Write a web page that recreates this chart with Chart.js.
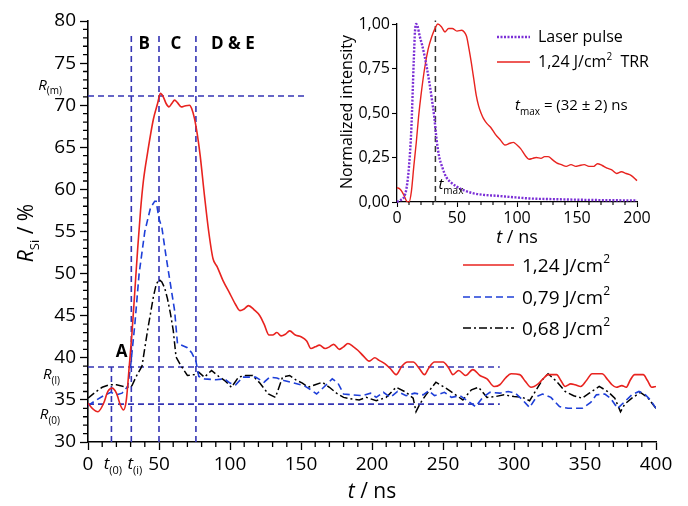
<!DOCTYPE html>
<html>
<head>
<meta charset="utf-8">
<script src="https://cdn.jsdelivr.net/npm/chart.js@4.4.1/dist/chart.umd.min.js"></script>
<style>
  body { margin: 0; background: #fff; }
  #wrap { position: relative; width: 688px; height: 506px; }
  #main { position: absolute; left: 0; top: 0; }
  #inset { position: absolute; left: 330px; top: 0; }
</style>
</head>
<body>
<div id="wrap">
  <canvas id="main" width="688" height="506"></canvas>
  <canvas id="inset" width="330" height="250"></canvas>
</div>
<script>
// reflectivity traces, t in ns, R in %
const tRed = [0,3,7,11,14,17,20,23,25,27,29,31,33,35,37,39,42,46,49,51,53,55,57,59,61,63,65.7,68,71.5,73,75,77,79,82,85,88,91,95,100,104,107,110,113,117,121,124,127.5,130,133,136,139,142,146,150,154,157,160,163,167,170,173,177,180,183,187,190,194,198,202,205,209,213,217,221,225,229,233,237,240,244,250,254,257,261,266,271,276,281,286,290,294,298,304,308,312,317,321,324,330,333,336,340,343,347,351,355,362,366,369,372,376,379,382,385,391,394,397,400];
const rRed = [34.6,34.0,33.6,34.6,36.0,36.4,35.8,34.3,33.8,35.0,38.9,43.0,48.0,53.0,57.5,61.0,64.4,68.3,70.2,71.4,71.0,70.2,69.8,70.2,70.6,70.3,69.8,69.9,70.0,69.6,68.4,66.5,64.0,59.3,55.0,51.8,50.8,49.2,47.6,46.3,45.6,45.8,46.2,45.7,45.0,44.0,42.7,42.7,43.0,42.6,42.8,43.2,42.7,42.5,42.0,41.1,41.3,41.5,41.1,41.3,41.6,41.0,41.3,41.7,41.3,40.9,40.2,39.6,40.0,39.7,39.3,38.7,38.0,39.0,39.5,39.5,38.8,38.0,38.8,39.5,39.5,38.8,38.0,38.5,37.9,38.6,37.9,37.5,36.6,36.8,37.6,38.1,38.0,37.2,36.5,36.9,37.6,38.0,38.0,37.3,36.6,36.9,36.8,36.6,37.3,38.1,38.1,37.4,36.8,36.5,36.7,36.5,37.4,38.0,38.0,37.3,36.5,36.6];

const tBlue = [0,5,10,16,20,24,28,30,33,36,40,44,47,48,50,52,55,58,61,63,66,70,73,76,78,82,90,96,100,104,109,118,124,128,133,138,145,152,157,161,166,172,176,180,186,193,199,203,208,213,218,224,230,236,240,244,251,256,262,268,273,278,283,290,296,301,306,311,316,320,326,332,338,348,354,358,364,368,373,378,383,388,392,396,400];
const rBlue = [34.3,34.9,35.4,35.9,35.6,35.8,36.6,39.0,44.0,50.0,55.0,57.8,58.6,58.6,56.5,55.5,52.0,48.8,45.6,41.7,41.5,41.2,40.6,39.6,37.8,37.5,37.4,37.5,37.0,36.8,37.7,37.7,37.1,37.7,37.6,37.3,37.0,36.7,36.2,35.7,36.5,37.5,37.0,35.7,35.6,35.5,35.8,35.3,35.9,35.3,36.0,35.5,35.8,35.6,36.1,35.5,35.9,35.3,35.5,34.8,34.2,35.3,35.9,35.8,36.0,35.8,35.0,34.1,35.4,35.7,35.3,34.2,34.0,34.0,34.7,35.6,35.7,35.2,34.0,34.8,35.6,36.0,35.7,35.0,34.0];

const tBlack = [0,5,10,15,20,25,29,31,34,38,42,46,48,50,52,54,56,58,60,62,65,70,75,78,82,87,92,97,101,106,111,116,121,127,132,137,142,147,151,155,160,165,170,175,180,186,191,196,203,210,217,224,229,231,234,238,245,252,258,264,270,275,281,287,293,300,306,311,315,320,324,330,336,342,348,353,360,366,371,375,378,383,389,394,400];
const rBlack = [35.2,35.9,36.5,36.8,36.8,36.6,36.5,36.7,37.8,39.0,43.3,47.2,48.7,49.3,49.0,48.3,47.0,45.3,43.3,40.1,39.2,37.9,38.0,38.3,37.7,38.5,37.8,37.2,36.5,37.7,37.9,37.9,37.0,35.7,35.3,37.7,37.9,37.3,37.0,36.5,36.8,37.1,36.5,35.8,35.3,35.1,35.0,35.3,34.9,35.3,36.5,35.9,35.2,33.6,34.6,35.6,37.1,36.4,35.7,35.0,36.2,36.5,35.3,35.4,35.6,35.4,35.3,34.9,36.0,37.4,38.1,37.2,36.0,35.5,35.2,35.8,36.6,36.0,35.2,33.6,34.5,35.2,35.9,35.3,34.0];

const fluences = ['1,24', '0,79', '0,68'];

// phase markers
const phaseTimes = [30.5, 50, 76];
const phaseTop = 78.5;
const tZero = 16.5;
const levels = [71.1, 38.9, 34.5];   // R(m), R(l), R(0)
const levelEnds = [153, 290, 290];

// inset: normalised laser pulse and TRR signal
const tLaser = [0,3,6,8,10,12,14,15,16,17,19,21,23,25,27,29,31,33,35,38,41,45,50,56,63,72,83,95,110,130,150,175,200];
const vLaser = [0,0.01,0.03,0.08,0.2,0.42,0.8,0.96,1.0,0.99,0.93,0.88,0.82,0.75,0.67,0.58,0.48,0.35,0.26,0.19,0.14,0.11,0.085,0.065,0.05,0.04,0.035,0.028,0.02,0.016,0.013,0.01,0.009];
const tTrr = [0,2,4,6,8,10,12,14,16,18,20,23,26,29,32,34,37,40,43,46,50,54,56,58,60,62,64,66,68,70,72,75,78,82,86,90,94,97,100,103,107,110,113,116,120,123,126,130,133,137,141,145,149,152,156,160,164,167,171,175,179,183,187,191,195,200];
const vTrr = [0.08,0.075,0.06,0.035,0.005,0.0,0.06,0.2,0.33,0.48,0.6,0.75,0.86,0.93,0.98,1.0,0.985,0.955,0.975,0.975,0.96,0.965,0.955,0.93,0.86,0.78,0.69,0.6,0.54,0.5,0.47,0.44,0.42,0.38,0.35,0.32,0.33,0.335,0.32,0.3,0.26,0.24,0.245,0.25,0.245,0.255,0.255,0.235,0.22,0.21,0.2,0.21,0.2,0.205,0.21,0.2,0.2,0.215,0.205,0.19,0.18,0.16,0.17,0.16,0.15,0.12];
const tMax = 32;

const FAM = "'Open Sans', sans-serif";
const RED = '#e8231f', BLUE = '#1e3fd8', GUIDE = '#3434b4', PURPLE = '#7b2fd6';

const pts = (xs, ys) => xs.map((v, i) => ({ x: v, y: ys[i] }));

// text with italic / bold / sub / sup pieces, y is the baseline
function rich(ctx, x, y, parts, size, align) {
  const font = st => {
    if (st === 'i') return `italic ${size}px ${FAM}`;
    if (st === 'b') return `bold ${size}px ${FAM}`;
    if (st === 'sub' || st === 'sup') return `${Math.round(size * 0.64)}px ${FAM}`;
    return `${size}px ${FAM}`;
  };
  let w = 0;
  parts.forEach(p => { ctx.font = font(p[1]); w += ctx.measureText(p[0]).width; });
  let cx = align === 'center' ? x - w / 2 : align === 'right' ? x - w : x;
  ctx.textAlign = 'left';
  ctx.textBaseline = 'alphabetic';
  parts.forEach(p => {
    ctx.font = font(p[1]);
    const dy = p[1] === 'sub' ? size * 0.3 : p[1] === 'sup' ? -size * 0.45 : 0;
    ctx.fillText(p[0], cx, y + dy);
    cx += ctx.measureText(p[0]).width;
  });
}

function minorTicks(ctx, x, y, xs, ys, len) {
  ctx.beginPath();
  xs.forEach(t => { const px = x.getPixelForValue(t); ctx.moveTo(px, y.bottom); ctx.lineTo(px, y.bottom + len); });
  ys.forEach(v => { const py = y.getPixelForValue(v); ctx.moveTo(x.left - len, py); ctx.lineTo(x.left, py); });
  ctx.stroke();
}

const guideSets = [];
phaseTimes.forEach(t => guideSets.push(pts([t, t], [30, phaseTop])));
guideSets.push(pts([tZero, tZero], [30, levels[1]]));
levels.forEach((v, i) => guideSets.push(pts([0, levelEnds[i]], [v, v])));

const mainDecor = {
  id: 'mainDecor',
  afterDraw(chart) {
    const { ctx, scales: { x, y } } = chart;
    ctx.save();
    ctx.strokeStyle = '#000';
    ctx.lineWidth = 1.3;
    const mx = [], my = [];
    for (let t = 10; t < 400; t += 10) if (t % 50) mx.push(t);
    for (let v = 31; v < 80; v++) if (v % 5) my.push(v);
    minorTicks(ctx, x, y, mx, my, 5);

    ctx.fillStyle = '#000';
    rich(ctx, x.left - 26, y.getPixelForValue(levels[0]) - 6, [['R', 'i'], ['(m)', 'sub']], 15, 'right');
    rich(ctx, x.left - 28, y.getPixelForValue(levels[1]) + 12, [['R', 'i'], ['(l)', 'sub']], 15, 'right');
    rich(ctx, x.left - 28, y.getPixelForValue(levels[2]) + 15, [['R', 'i'], ['(0)', 'sub']], 15, 'right');

    rich(ctx, x.getPixelForValue(23.7), y.getPixelForValue(40.1), [['A', 'b']], 17, 'center');
    rich(ctx, x.getPixelForValue(39.5), y.getPixelForValue(76.7), [['B', 'b']], 17, 'center');
    rich(ctx, x.getPixelForValue(62), y.getPixelForValue(76.7), [['C', 'b']], 17, 'center');
    rich(ctx, x.getPixelForValue(102), y.getPixelForValue(76.7), [['D & E', 'b']], 17, 'center');

    rich(ctx, x.getPixelForValue(17.5), y.bottom + 27, [['t', 'i'], ['(0)', 'sub']], 17, 'center');
    rich(ctx, x.getPixelForValue(33), y.bottom + 27, [['t', 'i'], ['(i)', 'sub']], 17, 'center');

    // axis titles
    rich(ctx, (x.left + x.right) / 2, 498, [['t', 'i'], [' / ns', '']], 21, 'center');
    ctx.save();
    ctx.translate(33, 233);
    ctx.rotate(-Math.PI / 2);
    rich(ctx, 0, 0, [['R', 'i'], ['Si', 'sub'], [' / %', '']], 21, 'center');
    ctx.restore();

    // legend
    const styles = [[RED, []], [BLUE, [7, 4]], ['#000', [8, 3, 2, 3]]];
    const rows = [265, 297, 328];
    fluences.forEach((f, i) => {
      ctx.strokeStyle = styles[i][0];
      ctx.lineWidth = 1.6;
      ctx.setLineDash(styles[i][1]);
      ctx.beginPath();
      ctx.moveTo(463, rows[i]);
      ctx.lineTo(514, rows[i]);
      ctx.stroke();
      ctx.setLineDash([]);
      rich(ctx, 522, rows[i] + 7, [[f + ' J/cm', ''], ['2', 'sup']], 19, 'left');
    });
    ctx.restore();
  }
};

const tickFont = { family: FAM, size: 19 };

new Chart(document.getElementById('main'), {
  type: 'scatter',
  data: {
    datasets: [
      { data: pts(tRed, rRed), showLine: true, borderColor: RED, borderWidth: 1.6, cubicInterpolationMode: 'monotone' },
      { data: pts(tBlue, rBlue), showLine: true, borderColor: BLUE, borderWidth: 1.6, borderDash: [7, 4] },
      { data: pts(tBlack, rBlack), showLine: true, borderColor: '#000', borderWidth: 1.5, borderDash: [8, 3, 2, 3] },
      ...guideSets.map(d => ({ data: d, showLine: true, borderColor: GUIDE, borderWidth: 1.6, borderDash: [6, 4] }))
    ]
  },
  options: {
    responsive: false,
    animation: false,
    layout: { padding: { top: 21, right: 32, left: 0, bottom: 0 } },
    elements: { point: { radius: 0, hoverRadius: 0 } },
    plugins: { legend: { display: false }, tooltip: { enabled: false } },
    scales: {
      x: {
        type: 'linear', min: 0, max: 400,
        ticks: { stepSize: 50, color: '#000', font: tickFont, padding: 3, maxRotation: 0 },
        grid: { drawOnChartArea: false, tickLength: 8, tickColor: '#000', tickWidth: 1.3 },
        border: { color: '#000', width: 1.6 },
        afterFit: s => { s.height = 64; }
      },
      y: {
        min: 30, max: 80,
        ticks: { stepSize: 5, color: '#000', font: tickFont, padding: 4 },
        grid: { drawOnChartArea: false, tickLength: 8, tickColor: '#000', tickWidth: 1.3 },
        border: { color: '#000', width: 1.6 },
        afterFit: s => { s.width = 88; }
      }
    }
  },
  plugins: [mainDecor]
});

const insetDecor = {
  id: 'insetDecor',
  afterDraw(chart) {
    const { ctx, scales: { x, y } } = chart;
    ctx.save();
    ctx.strokeStyle = '#000';
    ctx.lineWidth = 1.1;
    const mx = [];
    for (let t = 10; t < 200; t += 10) if (t % 50) mx.push(t);
    minorTicks(ctx, x, y, mx, [], 3);

    ctx.fillStyle = '#000';
    // legend
    ctx.lineWidth = 2.4;
    ctx.strokeStyle = PURPLE;
    ctx.setLineDash([2, 1.5]);
    ctx.beginPath(); ctx.moveTo(167, 37); ctx.lineTo(200, 37); ctx.stroke();
    ctx.setLineDash([]);
    ctx.lineWidth = 1.4;
    ctx.strokeStyle = RED;
    ctx.beginPath(); ctx.moveTo(167, 62); ctx.lineTo(200, 62); ctx.stroke();
    rich(ctx, 208, 42, [['Laser pulse', '']], 16, 'left');
    rich(ctx, 208, 67, [[fluences[0] + ' J/cm', ''], ['2', 'sup'], ['  TRR', '']], 16, 'left');

    rich(ctx, 185, 110, [['t', 'i'], ['max', 'sub'], [' = (32 \u00b1 2) ns', '']], 15, 'left');
    rich(ctx, x.getPixelForValue(tMax) + 3, y.bottom - 13, [['t', 'i'], ['max', 'sub']], 15, 'left');

    rich(ctx, (x.left + x.right) / 2, 243, [['t', 'i'], [' / ns', '']], 18, 'center');
    ctx.save();
    ctx.translate(22, 112);
    ctx.rotate(-Math.PI / 2);
    rich(ctx, 0, 0, [['Normalized intensity', '']], 16, 'center');
    ctx.restore();
    ctx.restore();
  }
};

const insetFont = { family: FAM, size: 16 };

new Chart(document.getElementById('inset'), {
  type: 'scatter',
  data: {
    datasets: [
      { data: pts(tLaser, vLaser), showLine: true, borderColor: PURPLE, borderWidth: 2.4, borderDash: [2, 1.5], cubicInterpolationMode: 'monotone', clip: false },
      { data: pts(tTrr, vTrr), showLine: true, borderColor: RED, borderWidth: 1.4, cubicInterpolationMode: 'monotone', clip: false },
      { data: pts([tMax, tMax], [0, 1.02]), showLine: true, borderColor: '#333', borderWidth: 1.5, borderDash: [6, 4], clip: false }
    ]
  },
  options: {
    responsive: false,
    animation: false,
    layout: { padding: { top: 24, right: 23, left: 0, bottom: 0 } },
    elements: { point: { radius: 0, hoverRadius: 0 } },
    plugins: { legend: { display: false }, tooltip: { enabled: false } },
    scales: {
      x: {
        type: 'linear', min: 0, max: 200,
        ticks: { stepSize: 50, color: '#000', font: insetFont, padding: 2, maxRotation: 0 },
        grid: { drawOnChartArea: false, tickLength: 5, tickColor: '#000', tickWidth: 1.1 },
        border: { color: '#000', width: 1.3 },
        afterFit: s => { s.height = 48; }
      },
      y: {
        min: 0, max: 1,
        ticks: { stepSize: 0.25, color: '#000', font: insetFont, padding: 2, callback: v => v.toFixed(2).replace('.', ',') },
        grid: { drawOnChartArea: false, tickLength: 5, tickColor: '#000', tickWidth: 1.1 },
        border: { color: '#000', width: 1.3 },
        afterFit: s => { s.width = 67; }
      }
    }
  },
  plugins: [insetDecor]
});
</script>
</body>
</html>
